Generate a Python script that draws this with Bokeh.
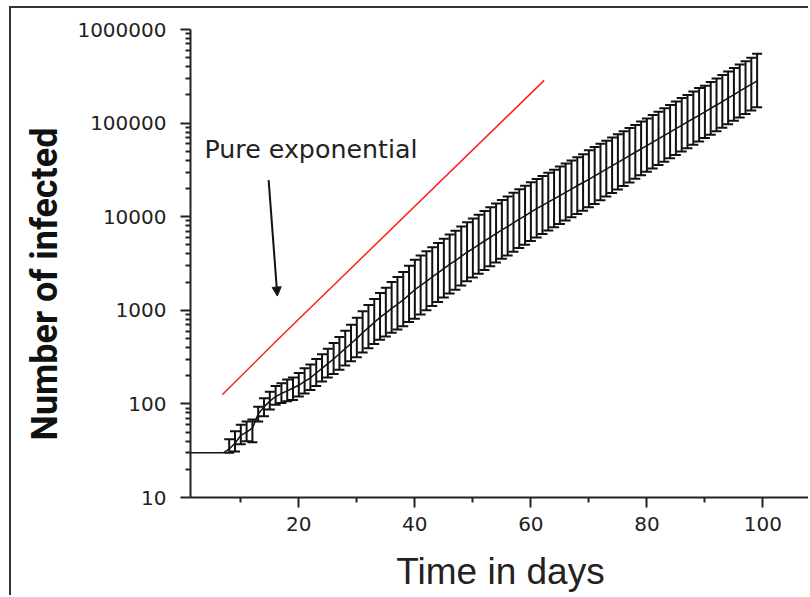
import math
from bokeh.plotting import figure
from bokeh.models import (ColumnDataSource, Whisker, TeeHead, FixedTicker, Label,
                          Arrow, NormalHead, Range1d, NumeralTickFormatter, Title)
from bokeh.embed import file_html
from bokeh.resources import INLINE

# ---------------- data ----------------
# mean number of infected, days 0..99
mean_days = list(range(0, 100))
mean_vals = [30, 30, 30, 30, 30, 30, 30, 30,
             33, 38, 46, 50, 55, 78, 93, 107, 120, 129, 138, 148, 158,
             174, 190, 214, 240, 269, 302, 343, 389, 442, 501,
             575, 653, 741, 841, 933, 1050, 1160, 1290, 1460, 1660,
             1840, 2040, 2270, 2510, 2790, 3090, 3390, 3760, 4170, 4570,
             5010, 5500, 6030, 6610, 7240, 7850, 8610, 9440, 10200, 11200,
             12200, 13200, 14300, 15500, 16800, 18200, 19700, 21400, 23200, 25100,
             27300, 29600, 32200, 35000, 38000, 41300, 44900, 48800, 53000, 57500,
             62500, 67900, 73800, 80200, 87100, 94600, 103000, 112000, 121000, 132000,
             144000, 156000, 170000, 185000, 202000, 220000, 239000, 259000, 282000]

# error bars, days 8..99
err_days = list(range(8, 100))
err_upper = [42, 51, 60, 65, 68, 93, 115, 135, 155, 166, 182, 191, 214,
             240, 263, 302, 339, 389, 447, 519, 603, 700, 832,
             977, 1140, 1320, 1530, 1740, 2000, 2270, 2570, 2990, 3470,
             3850, 4270, 4730, 5250, 5820, 6460, 7080, 7850, 8710, 9550,
             10500, 11500, 12600, 13800, 15100, 16400, 18000, 19700, 21400, 23400,
             25300, 27300, 29400, 31800, 34300, 37000, 39900, 43100, 46500, 51300,
             55500, 60000, 64900, 70100, 75900, 82000, 88500, 95700, 104000, 112000,
             122000, 132000, 144000, 156000, 170000, 185000, 200000, 218000, 237000, 251000,
             275000, 300000, 327000, 356000, 387000, 422000, 458000, 498000, 550000]
err_lower = [30, 31, 37, 40, 39, 65, 74, 87, 98, 102, 107, 110, 120,
             129, 141, 155, 174, 191, 209, 232, 257, 285, 316,
             355, 394, 437, 484, 525, 575, 624, 676, 750, 813,
             902, 1000, 1110, 1230, 1370, 1510, 1660, 1840, 2040, 2240,
             2460, 2690, 2950, 3240, 3550, 3850, 4220, 4620, 5010, 5500,
             5980, 6520, 7100, 7730, 8380, 9080, 9840, 10700, 11600, 12600,
             13700, 15000, 16400, 17900, 19500, 21300, 23200, 25400, 27700, 30200,
             32800, 35600, 38700, 42100, 45700, 49700, 54000, 58600, 63700, 69200,
             75300, 82000, 89300, 97300, 106000, 115000, 125000, 136000, 148000]

# pure exponential reference line
exp_days = [6.8, 16.2, 62.3]
exp_vals = [125, 475, 286000]

# ticks
x_major = [20, 40, 60, 80, 100]
x_minor = [10, 30, 50, 70, 90]
y_major = [10, 100, 1000, 10000, 100000, 1000000]
y_minor = [k * 10 ** d for d in range(1, 6) for k in range(2, 10)]

# annotation anchors (data coordinates)
label_text = "Pure exponential"
label_pos = (3.74, 52600)
arrow_start = (14.8, 24600)
arrow_end = (16.3, 1420)

# ---------------- figure ----------------
p = figure(width=799, height=589, y_axis_type="log",
           x_range=Range1d(1.33, 108.2), y_range=Range1d(10, 1e6),
           output_backend="svg", toolbar_location=None,
           min_border_left=179, min_border_right=0,
           min_border_top=21, min_border_bottom=100)
p.margin = (6, 0, 0, 9)
p.styles = {"border-left": "2px solid #333", "border-top": "2px solid #333"}
p.background_fill_color = "white"
p.border_fill_color = "white"
p.outline_line_color = None
p.xgrid.visible = False
p.ygrid.visible = False

# red exponential
p.line(exp_days, exp_vals, line_color="#ff2020", line_width=1.5)

# mean curve
p.line(mean_days, mean_vals, line_color="#111111", line_width=1.5)

# error bars
src = ColumnDataSource(dict(x=err_days, upper=err_upper, lower=err_lower))
w = Whisker(source=src, base="x", upper="upper", lower="lower",
            line_color="#111111", line_width=2,
            upper_head=TeeHead(size=10, line_width=2, line_color="#111111"),
            lower_head=TeeHead(size=10, line_width=2, line_color="#111111"))
p.add_layout(w)

# annotations
p.add_layout(Label(x=label_pos[0], y=label_pos[1], text=label_text,
                   text_font="DejaVu Sans", text_font_size="25.3px",
                   text_color="#222222", text_align="left",
                   text_baseline="alphabetic"))
p.add_layout(Arrow(end=NormalHead(size=9, fill_color="#111111", line_color="#111111"),
                   x_start=arrow_start[0], y_start=arrow_start[1],
                   x_end=arrow_end[0], y_end=arrow_end[1],
                   line_width=2, line_color="#111111"))

# axes
for ax in (p.xaxis[0], p.yaxis[0]):
    ax.axis_line_width = 2
    ax.axis_line_color = "#222222"
    ax.major_tick_line_width = 2
    ax.minor_tick_line_width = 2
    ax.major_tick_line_color = "#222222"
    ax.minor_tick_line_color = "#222222"
    ax.major_tick_in = 0
    ax.major_tick_out = 10
    ax.minor_tick_in = 0
    ax.minor_tick_out = 5
    ax.major_label_text_font = "DejaVu Sans"
    ax.major_label_text_font_size = "20px"
    ax.major_label_text_color = "#222222"

p.xaxis.ticker = FixedTicker(ticks=x_major, minor_ticks=x_minor)
p.yaxis.ticker = FixedTicker(ticks=y_major, minor_ticks=y_minor)
p.yaxis.formatter = NumeralTickFormatter(format="0")
p.xaxis.major_label_standoff = 9
p.yaxis.major_label_standoff = 14

p.xaxis.axis_label = "Time in days"
p.xaxis.axis_label_text_font = "Liberation Sans"
p.xaxis.axis_label_text_font_size = "37px"
p.xaxis.axis_label_text_font_style = "normal"
p.xaxis.axis_label_text_color = "#222222"
p.xaxis.axis_label_standoff = 17

ytitle = Title(text="Number of infected", align="left", offset=57,
               text_font="Roboto", text_font_style="bold",
               text_font_size="36px", text_color="#111111", standoff=18)
p.add_layout(ytitle, "left")

open("out.html", "w").write(file_html(p, INLINE))
